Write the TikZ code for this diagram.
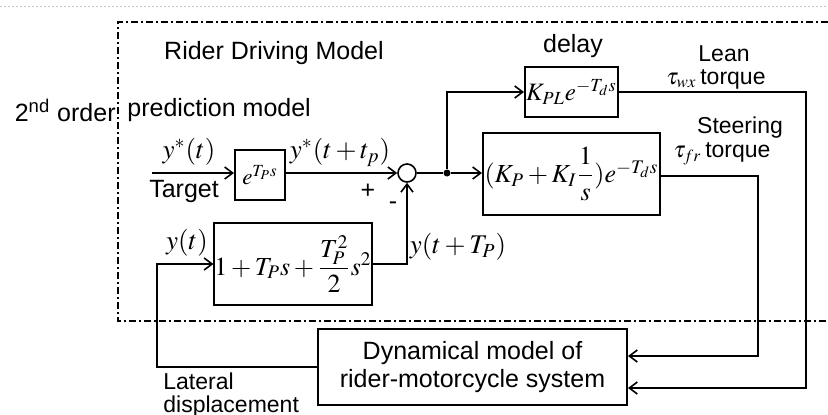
\documentclass[tikz,border=0pt]{standalone}
\usepackage{amsmath}
\usepackage{mathptmx}
\usepackage[no-math]{fontspec}
\setmainfont{Liberation Sans}
\usetikzlibrary{arrows.meta,calc}
\tikzset{
  blk/.style={draw, line width=1pt, inner sep=0pt, minimum width=#1},
  lbl/.style={inner sep=0pt, font=\fontsize{12.5}{14}\selectfont},
  slbl/.style={inner sep=0pt, font=\fontsize{11.5}{13}\selectfont},
  mth/.style={inner sep=0pt, font=\fontsize{13.5}{16}\selectfont},
  bmth/.style={inner sep=0pt, font=\fontsize{13}{16}\selectfont},
  conn/.style={line width=0.8pt, -{Straight Barb[length=4pt,width=6pt,line width=0.8pt]}},
  wire/.style={line width=0.8pt},
  bnd/.style={line width=1pt, dash pattern=on 3.5pt off 1.5pt on 1pt off 1.5pt},
}
\begin{document}
\begin{tikzpicture}[x=0.5pt,y=-0.5pt]
\useasboundingbox (0,0) rectangle (828,414);
% faint top line
\draw[gray!45, line width=0.4pt, dash pattern=on 1pt off 1pt] (0,6) -- (828,6);
% rider model boundary
\draw[bnd] (828,22) -- (118,22) -- (118,321) -- (828,321);
% labels
\node[lbl] (rdm) at (274,53) {Rider Driving Model};
\node[lbl, anchor=east] (ord) at (116,110) {2\textsuperscript{nd} order};
\node[lbl, anchor=west] (pred) at (127,110) {prediction model};
\node[lbl] (dly) at (573,46) {delay};
\node[slbl] (lean) at (724,54) {Lean};
\node[slbl] (leantq) at (716,79) {$\tau_{wx}$\,torque};
\node[slbl] (steer) at (740,128) {Steering};
\node[slbl] (steertq) at (722,154) {$\tau_{fr}$\,torque};
% blocks
\node[blk=25pt, minimum height=25pt, inner sep=0pt, font=\fontsize{11.5}{13}\selectfont] (ebox) at (260,175) {$e^{T_P s}$};
\node[draw, circle, line width=0.8pt, minimum size=9pt, inner sep=0pt] (sum) at (407,173) {};
\node[fill, circle, minimum size=3.5pt, inner sep=0pt] (dot) at (447,173) {};
\node[blk=88.5pt, minimum height=41pt, bmth] (pid) at (571.5,174) {$(K_P+K_I\dfrac{1}{s})e^{-T_d s}$};
\node[blk=46.5pt, minimum height=25pt, font=\fontsize{12.5}{14}\selectfont] (kpl) at (571.5,92) {$K_{PL}e^{-T_d s}$};
\node[blk=75pt, minimum height=41pt, bmth] (pred2) at (293,264) {$1+T_P s+\dfrac{T_P^2}{2}s^2$};
\node[blk=154.5pt, minimum height=38pt, lbl, align=center] (dyn) at (472.5,367) {Dynamical model of\\[0pt]rider-motorcycle system};
% signal labels
\coordinate (tin) at (152,173);
\node[mth] (ystar) at (189,152) {$y^{*}(t)$};
\node[lbl] (tgt) at (184,191) {Target};
\node[mth] (ystarp) at (340,152) {$y^{*}(t+t_p)$};
\node[lbl] (plus) at (368,191) {+};
\node[lbl] (minus) at (393,206) {-};
\node[mth] (yt) at (187,243) {$y(t)$};
\node[mth] (ytp) at (458,247) {$y(t+T_P)$};
\node[slbl, anchor=north west, align=left, font=\fontsize{11.5}{11.5}\selectfont] (lat) at (163,372) {Lateral\\displacement};
% connectors
\draw[conn] (tin) -- (ebox.west |- tin);
\draw[conn] (ebox.east |- sum) -- (sum.west);
\draw[wire] (sum.east) -- (dot);
\draw[conn] (dot) -- (pid.west |- dot);
\draw[conn] (dot) |- (kpl.west);
\draw[conn] (pred2.east) -| (sum.south);
\coordinate (fb) at (157,367);
\draw[conn] (dyn.west) -- (fb) |- (pred2.west);
\coordinate (lr) at (806,92);
\coordinate (sr) at (758,176);
\draw[conn] (kpl.east) -- (lr) |- ($(dyn.east)+(0,21)$);
\draw[conn] (pid.east |- sr) -- (sr) |- ($(dyn.east)+(0,-11)$);
\end{tikzpicture}
\end{document}
